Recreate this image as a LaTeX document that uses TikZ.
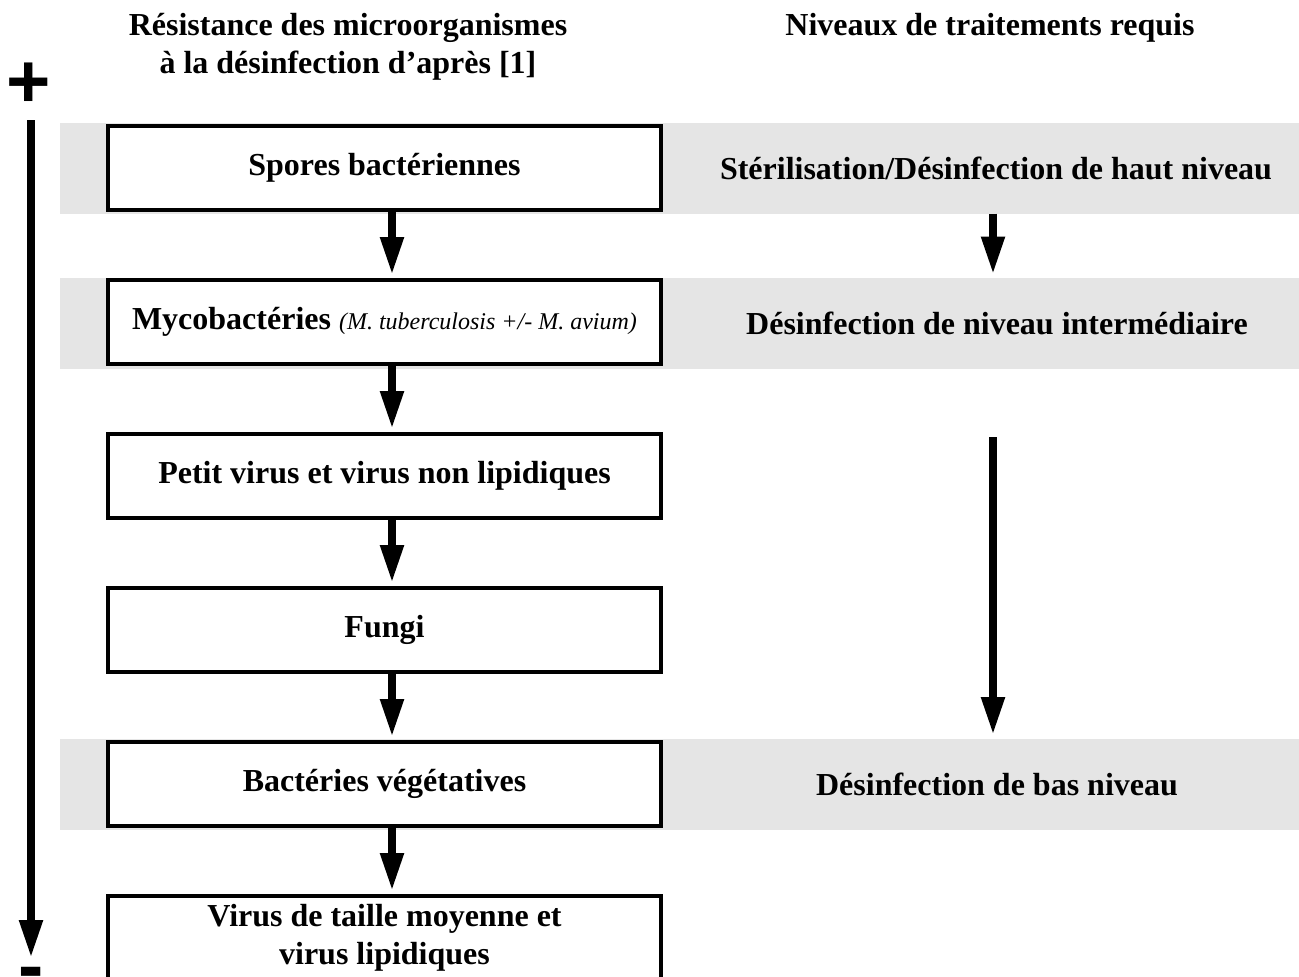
\documentclass[tikz,border=0pt]{standalone}
\usepackage{fontspec}
\setmainfont{Liberation Serif}
\setsansfont{Liberation Sans}
\usetikzlibrary{arrows.meta}
\begin{document}
\begin{tikzpicture}[x=1pt,y=-1pt,
  bigfont/.style={font=\fontsize{32}{38}\selectfont\bfseries},
  box/.style={draw, fill=white, line width=4pt, minimum width=553pt, minimum height=84pt, inner sep=0pt, align=center, bigfont},
  band/.style={fill=black!10, draw=none, minimum width=1239pt, minimum height=91pt, inner sep=0pt},
  lbl/.style={bigfont, align=center, inner sep=0pt},
  arr/.style={line width=8pt, -{Triangle[width=22pt,length=38pt]}, shorten >=3pt},
  sign/.style={font=\fontsize{76}{76}\selectfont\sffamily\bfseries, inner sep=0pt}
]
\useasboundingbox (0,0) rectangle (1299,977);
% gray bands
\node[band] (b1) at (679.5,168) {};
\node[band] (b2) at (679.5,323) {};
\node[band] (b3) at (679.5,784) {};
% headers
\node[lbl] (h1) at (348,47) {Résistance des microorganismes\\à la désinfection d’après [1]};
\node[lbl] (h2) at (990,28) {Niveaux de traitements requis};
% boxes
\node[box] (s1) at (384.5,168) {Spores bactériennes};
\node[box] (s2) at (384.5,322) {Mycobactéries {\fontsize{24}{28}\selectfont\mdseries\itshape (M. tuberculosis +/- M. avium)}};
\node[box] (s3) at (384.5,476) {Petit virus et virus non lipidiques};
\node[box] (s4) at (384.5,630) {Fungi};
\node[box] (s5) at (384.5,784) {Bactéries végétatives};
\node[box] (s6) at (384.5,938) {Virus de taille moyenne et\\virus lipidiques};
% arrows between boxes
\foreach \a/\b in {s1/s2,s2/s3,s3/s4,s4/s5,s5/s6}
  \draw[arr] ([xshift=7.5pt]\a.south) -- ([xshift=7.5pt]\b.north);
% right column
\node[lbl] (r1) at (996,168) {Stérilisation/Désinfection de haut niveau};
\node[lbl] (r2) at (997,323) {Désinfection de niveau intermédiaire};
\node[lbl] (r3) at (997,784) {Désinfection de bas niveau};
\coordinate (ra) at (993,213.5);
\coordinate (rb) at (993,277.5);
\coordinate (rc) at (993,437);
\coordinate (rd) at (993,738);
\draw[arr] (ra) -- (rb);
\draw[arr] (rc) -- (rd);
% left resistance axis
\node[sign] (plus) at (29,85) {+};
\node[sign, anchor=north] (minus) at (31,967) {-};
\coordinate (la) at (31,120);
\coordinate (lb) at (31,961);
\draw[arr] (la) -- (lb);
\end{tikzpicture}
\end{document}
